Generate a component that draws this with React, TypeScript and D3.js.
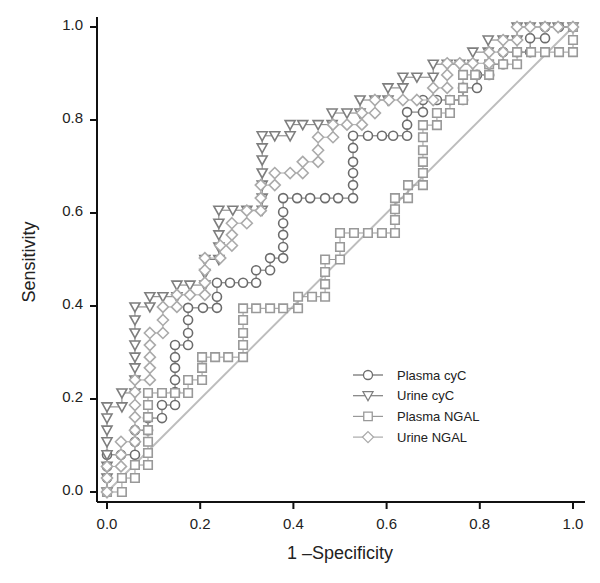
import { useEffect, useRef } from "react"
import * as d3 from "d3"

// ROC points [1 - specificity, sensitivity]
const plasmaCyC: [number, number][] = [
  [0, 0], [0, 0.03], [0, 0.055], [0, 0.08], [0.03, 0.08], [0.06, 0.08], [0.06, 0.108], [0.06, 0.133],
  [0.088, 0.133], [0.088, 0.159], [0.118, 0.159], [0.118, 0.187], [0.146, 0.187], [0.146, 0.215],
  [0.146, 0.241], [0.146, 0.267], [0.146, 0.29], [0.146, 0.316], [0.174, 0.316], [0.174, 0.342],
  [0.174, 0.37], [0.174, 0.396], [0.206, 0.396], [0.236, 0.396], [0.236, 0.42], [0.236, 0.45],
  [0.264, 0.45], [0.292, 0.45], [0.32, 0.45], [0.32, 0.477], [0.35, 0.477], [0.35, 0.503],
  [0.378, 0.503], [0.378, 0.527], [0.378, 0.553], [0.378, 0.578], [0.378, 0.602], [0.378, 0.632],
  [0.408, 0.632], [0.436, 0.632], [0.468, 0.632], [0.496, 0.632], [0.528, 0.632], [0.528, 0.66],
  [0.528, 0.686], [0.528, 0.71], [0.528, 0.74], [0.528, 0.766], [0.56, 0.766], [0.59, 0.766],
  [0.614, 0.766], [0.644, 0.766], [0.644, 0.79], [0.644, 0.817], [0.678, 0.817], [0.678, 0.843],
  [0.708, 0.843], [0.736, 0.843], [0.764, 0.843], [0.764, 0.869], [0.794, 0.869], [0.794, 0.897],
  [0.82, 0.897], [0.82, 0.92], [0.85, 0.92], [0.85, 0.946], [0.88, 0.946], [0.908, 0.946],
  [0.908, 0.976], [0.94, 0.976], [0.94, 1], [0.97, 1], [1, 1],
]

const urineCyC: [number, number][] = [
  [0, 0], [0, 0.03], [0, 0.055], [0, 0.08], [0, 0.108], [0, 0.133], [0, 0.159], [0, 0.183],
  [0.032, 0.183], [0.032, 0.213], [0.06, 0.213], [0.06, 0.241], [0.06, 0.267], [0.06, 0.29],
  [0.06, 0.316], [0.06, 0.342], [0.06, 0.37], [0.06, 0.398], [0.092, 0.398], [0.092, 0.42],
  [0.12, 0.42], [0.15, 0.42], [0.15, 0.445], [0.178, 0.445], [0.21, 0.445], [0.21, 0.47],
  [0.21, 0.5], [0.24, 0.5], [0.24, 0.527], [0.24, 0.553], [0.24, 0.578], [0.24, 0.606],
  [0.27, 0.606], [0.3, 0.606], [0.333, 0.606], [0.333, 0.632], [0.333, 0.66], [0.333, 0.686],
  [0.333, 0.714], [0.333, 0.74], [0.333, 0.766], [0.36, 0.766], [0.393, 0.766], [0.393, 0.79],
  [0.42, 0.79], [0.453, 0.79], [0.483, 0.79], [0.483, 0.815], [0.515, 0.815], [0.543, 0.815],
  [0.543, 0.843], [0.575, 0.843], [0.603, 0.843], [0.603, 0.869], [0.635, 0.869], [0.635, 0.892],
  [0.665, 0.892], [0.7, 0.892], [0.7, 0.92], [0.73, 0.92], [0.757, 0.92], [0.785, 0.92],
  [0.785, 0.946], [0.818, 0.946], [0.818, 0.972], [0.85, 0.972], [0.88, 0.972], [0.88, 1],
  [0.908, 1], [0.94, 1], [0.968, 1], [1, 1],
]

const plasmaNgal: [number, number][] = [
  [0, 0], [0.032, 0], [0.032, 0.03], [0.06, 0.03], [0.06, 0.058], [0.088, 0.058], [0.088, 0.084],
  [0.088, 0.108], [0.088, 0.133], [0.088, 0.161], [0.088, 0.187], [0.088, 0.213], [0.118, 0.213],
  [0.146, 0.213], [0.174, 0.213], [0.174, 0.241], [0.204, 0.241], [0.204, 0.267], [0.204, 0.29],
  [0.232, 0.29], [0.26, 0.29], [0.292, 0.29], [0.292, 0.316], [0.292, 0.342], [0.292, 0.37],
  [0.292, 0.395], [0.32, 0.395], [0.35, 0.395], [0.378, 0.395], [0.41, 0.395], [0.41, 0.42],
  [0.44, 0.42], [0.468, 0.42], [0.468, 0.447], [0.468, 0.473], [0.468, 0.5], [0.5, 0.5],
  [0.5, 0.527], [0.5, 0.557], [0.53, 0.557], [0.56, 0.557], [0.59, 0.557], [0.618, 0.557],
  [0.618, 0.585], [0.618, 0.608], [0.618, 0.632], [0.646, 0.632], [0.646, 0.66], [0.678, 0.66],
  [0.678, 0.686], [0.678, 0.71], [0.678, 0.735], [0.678, 0.763], [0.678, 0.789], [0.708, 0.789],
  [0.708, 0.815], [0.736, 0.815], [0.736, 0.843], [0.764, 0.843], [0.764, 0.869], [0.764, 0.897],
  [0.79, 0.897], [0.82, 0.897], [0.82, 0.92], [0.85, 0.92], [0.88, 0.92], [0.88, 0.946],
  [0.91, 0.946], [0.94, 0.946], [0.97, 0.946], [1, 0.946], [1, 0.972], [1, 1],
]

const urineNgal: [number, number][] = [
  [0, 0], [0, 0.03], [0, 0.055], [0.03, 0.055], [0.03, 0.08], [0.03, 0.108], [0.06, 0.108],
  [0.06, 0.133], [0.06, 0.161], [0.06, 0.187], [0.06, 0.215], [0.06, 0.241], [0.092, 0.241],
  [0.092, 0.267], [0.092, 0.29], [0.092, 0.316], [0.092, 0.342], [0.12, 0.342], [0.12, 0.37],
  [0.12, 0.398], [0.15, 0.398], [0.15, 0.424], [0.178, 0.424], [0.21, 0.424], [0.21, 0.45],
  [0.21, 0.477], [0.21, 0.503], [0.243, 0.503], [0.243, 0.53], [0.268, 0.53], [0.268, 0.553],
  [0.268, 0.578], [0.3, 0.578], [0.3, 0.605], [0.33, 0.605], [0.33, 0.632], [0.33, 0.66],
  [0.36, 0.66], [0.36, 0.686], [0.393, 0.686], [0.42, 0.686], [0.42, 0.71], [0.453, 0.71],
  [0.453, 0.735], [0.453, 0.763], [0.485, 0.763], [0.485, 0.79], [0.515, 0.79], [0.547, 0.79],
  [0.547, 0.815], [0.575, 0.815], [0.575, 0.843], [0.605, 0.843], [0.635, 0.843], [0.665, 0.843],
  [0.7, 0.843], [0.7, 0.869], [0.73, 0.869], [0.73, 0.897], [0.73, 0.922], [0.757, 0.922],
  [0.785, 0.922], [0.82, 0.922], [0.82, 0.946], [0.85, 0.946], [0.85, 0.972], [0.88, 0.972],
  [0.88, 1], [0.908, 1], [0.94, 1], [0.968, 1], [1, 1],
]

const seriesNames = ["Plasma cyC", "Urine cyC", "Plasma NGAL", "Urine NGAL"]
const seriesData = [plasmaCyC, urineCyC, plasmaNgal, urineNgal]
const seriesColors = ["#6c6c6c", "#7e7e7e", "#999999", "#aaaaaa"]
const seriesShapes = ["circle", "triangle", "square", "diamond"]
const tickValues = [0, 0.2, 0.4, 0.6, 0.8, 1.0]

const FONT = "'Liberation Sans', Arial, Helvetica, sans-serif"

const shapePath = (shape: string) => {
  if (shape === "circle") return d3.symbol(d3.symbolCircle, 64)()
  if (shape === "square") return d3.symbol(d3.symbolSquare, 72)()
  if (shape === "triangle") return "M-5,-4L5,-4L0,5Z"
  return "M0,-5.5L5.5,0L0,5.5L-5.5,0Z"
}

const App = () => {
  const svgRef = useRef<SVGSVGElement>(null)

  useEffect(() => {
    const width = 600
    const height = 583

    const x = d3.scaleLinear().domain([0, 1]).range([107, 573])
    const y = d3.scaleLinear().domain([0, 1]).range([492, 27])

    const svg = d3.select(svgRef.current)
    svg.selectAll("*").remove()
    svg.attr("width", width).attr("height", height)

    svg.append("rect").attr("width", width).attr("height", height).attr("fill", "#fff")

    // reference diagonal
    svg
      .append("line")
      .attr("x1", x(0))
      .attr("y1", y(0))
      .attr("x2", x(1))
      .attr("y2", y(1))
      .attr("stroke", "#bdbdbd")
      .attr("stroke-width", 2)

    const line = d3
      .line<[number, number]>()
      .x((d) => x(d[0]))
      .y((d) => y(d[1]))

    // drawn in legend order, later series on top
    seriesData.forEach((data, i) => {
      const g = svg.append("g")
      g.append("path")
        .attr("d", line(data))
        .attr("fill", "none")
        .attr("stroke", seriesColors[i])
        .attr("stroke-width", 1)
      g.selectAll("path.m")
        .data(data)
        .enter()
        .append("path")
        .attr("class", "m")
        .attr("d", shapePath(seriesShapes[i]))
        .attr("transform", (d) => `translate(${x(d[0])},${y(d[1])})`)
        .attr("fill", "#fff")
        .attr("stroke", seriesColors[i])
        .attr("stroke-width", 1.6)
    })

    // axes
    const axisY = 502
    const axisX = 97
    svg.append("line").attr("x1", axisX).attr("x2", 585).attr("y1", axisY).attr("y2", axisY).attr("stroke", "#111").attr("stroke-width", 2)
    svg.append("line").attr("x1", axisX).attr("x2", axisX).attr("y1", 17).attr("y2", axisY).attr("stroke", "#111").attr("stroke-width", 2)

    const xt = svg.append("g")
    tickValues.forEach((t) => {
      xt.append("line").attr("x1", x(t)).attr("x2", x(t)).attr("y1", axisY).attr("y2", axisY + 7).attr("stroke", "#111").attr("stroke-width", 2)
      xt.append("text")
        .attr("x", x(t))
        .attr("y", axisY + 27)
        .attr("text-anchor", "middle")
        .style("font-family", FONT)
        .style("font-size", "15px")
        .attr("fill", "#222")
        .text(d3.format(".1f")(t))
    })

    const yt = svg.append("g")
    tickValues.forEach((t) => {
      yt.append("line").attr("x1", axisX - 7).attr("x2", axisX).attr("y1", y(t)).attr("y2", y(t)).attr("stroke", "#111").attr("stroke-width", 2)
      yt.append("text")
        .attr("x", 83)
        .attr("y", y(t) - 2)
        .attr("dy", "0.35em")
        .attr("text-anchor", "end")
        .style("font-family", FONT)
        .style("font-size", "15px")
        .attr("fill", "#222")
        .text(d3.format(".1f")(t))
    })

    svg
      .append("text")
      .attr("x", 340)
      .attr("y", 559)
      .attr("text-anchor", "middle")
      .style("font-family", FONT)
      .style("font-size", "18px")
      .attr("fill", "#222")
      .text("1 \u2013Specificity")

    svg
      .append("text")
      .attr("transform", "translate(35,262) rotate(-90)")
      .attr("text-anchor", "middle")
      .style("font-family", FONT)
      .style("font-size", "18px")
      .attr("fill", "#222")
      .text("Sensitivity")

    // legend
    const legend = svg.append("g")
    seriesNames.forEach((name, i) => {
      const ly = 375 + i * 20.7
      legend.append("line").attr("x1", 353).attr("x2", 383).attr("y1", ly).attr("y2", ly).attr("stroke", seriesColors[i]).attr("stroke-width", 1.2)
      legend
        .append("path")
        .attr("d", shapePath(seriesShapes[i]))
        .attr("transform", `translate(368,${ly})`)
        .attr("fill", "#fff")
        .attr("stroke", seriesColors[i])
        .attr("stroke-width", 1.3)
      legend
        .append("text")
        .attr("x", 397)
        .attr("y", ly)
        .attr("dy", "0.35em")
        .style("font-family", FONT)
        .style("font-size", "13px")
        .attr("fill", "#222")
        .text(name)
    })
  }, [])

  return (
    <div style={{ margin: -8 }}>
      <svg ref={svgRef}></svg>
    </div>
  )
}

export default App
